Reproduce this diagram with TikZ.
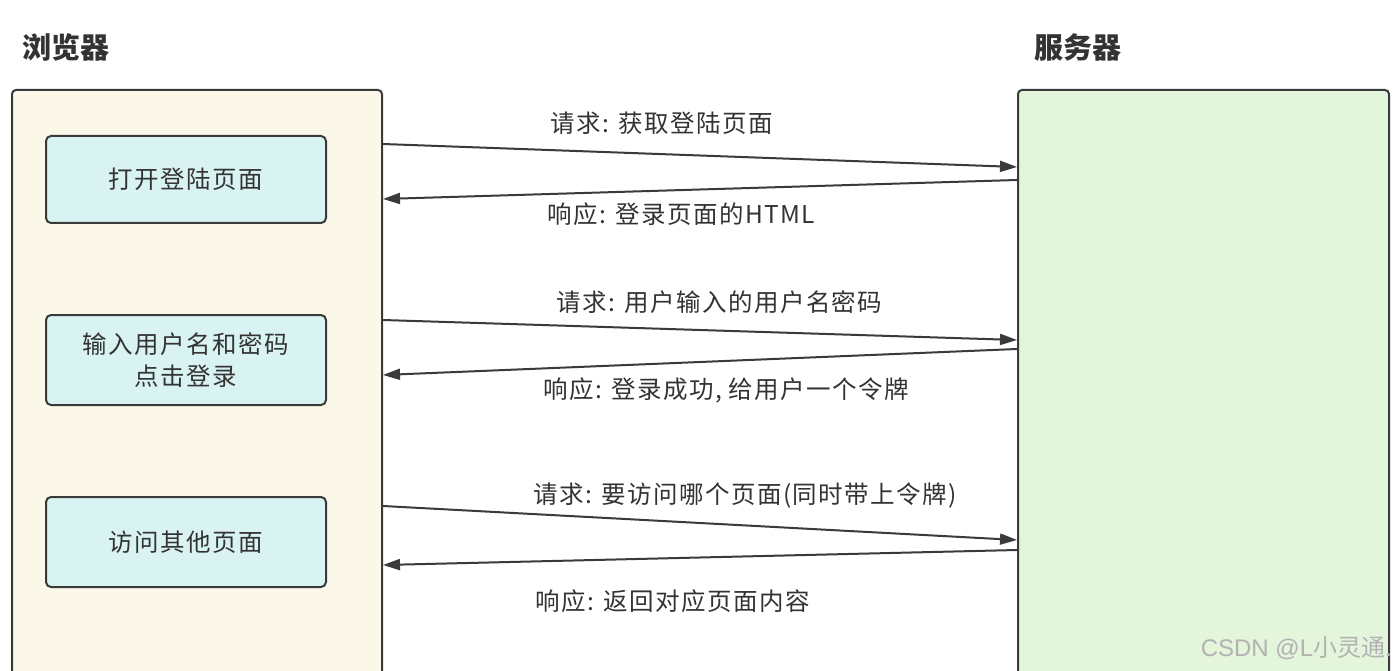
\documentclass[tikz,border=0pt]{standalone}
\usepackage{fontspec}
\setmainfont{Noto Sans CJK SC}
\newfontfamily\spaced[LetterSpace=6]{Noto Sans CJK SC}
\newfontfamily\wmfont{Liberation Sans}
\usetikzlibrary{arrows.meta,calc}
\definecolor{cream}{HTML}{FBF8EA}
\definecolor{srvgreen}{HTML}{E3F5DA}
\definecolor{boxcyan}{HTML}{D9F3F3}
\definecolor{edge}{HTML}{3A3A3A}
\definecolor{txt}{HTML}{333333}
\begin{document}
\begin{tikzpicture}[x=1pt,y=-1pt,
  lane/.style={draw=edge,line width=2pt,rounded corners=4pt,inner sep=0pt},
  stepbox/.style={draw=edge,line width=2pt,rounded corners=5pt,fill=boxcyan,
    minimum width=280pt,minimum height=88pt,inner sep=0pt,align=center,
    font=\spaced\fontsize{24.5}{32}\selectfont,text=txt},
  title/.style={font=\fontsize{29}{32}\selectfont\bfseries,text=txt,anchor=west,inner sep=0pt},
  msg/.style={draw=edge,line width=2pt,-{Triangle[length=17pt,width=11pt]}},
  lbl/.style={font=\spaced\fontsize{24.5}{28}\selectfont,text=txt,inner sep=0pt}]
\useasboundingbox (0,0) rectangle (1398,671);
\clip (0,0) rectangle (1398,671);
\fill[white] (0,0) rectangle (1398,671);
% titles
\node[title] (tb) at (22,47) {浏览器};
\node[title] (ts) at (1034,47) {服务器};
% lanes
\node[lane,fill=cream,minimum width=370pt,minimum height=640pt] (browser) at (197,410) {};
\node[lane,fill=srvgreen,minimum width=371pt,minimum height=640pt] (server) at (1203.5,410) {};
% steps
\node[stepbox,minimum height=87pt] (s1) at (186,179.5) {打开登陆页面};
\node[stepbox,minimum height=90pt] (s2) at (186,360) {输入用户名和密码\\点击登录};
\node[stepbox,minimum height=90pt] (s3) at (186,542) {访问其他页面};
% anchor points on lane borders
\path (browser.north east) ++(0,55) coordinate (b1);
\path (browser.north east) ++(0,110) coordinate (b2);
\path (browser.north east) ++(0,231) coordinate (b3);
\path (browser.north east) ++(0,286) coordinate (b4);
\path (browser.north east) ++(0,417) coordinate (b5);
\path (browser.north east) ++(0,476) coordinate (b6);
\path (server.north west) ++(0,78) coordinate (v1);
\path (server.north west) ++(0,91) coordinate (v2);
\path (server.north west) ++(0,251) coordinate (v3);
\path (server.north west) ++(0,260) coordinate (v4);
\path (server.north west) ++(0,451) coordinate (v5);
\path (server.north west) ++(0,461) coordinate (v6);
% messages
\draw[msg] (b1) -- (v1);
\draw[msg] (v2) -- (b2);
\draw[msg] (b3) -- (v3);
\draw[msg] (v4) -- (b4);
\draw[msg] (b5) -- (v5);
\draw[msg] (v6) -- (b6);
% labels
\node[lbl,anchor=west] (l1) at (550,123) {请求: 获取登陆页面};
\node[lbl,anchor=west] (l2) at (547,214) {响应: 登录页面的HTML};
\node[lbl,anchor=west] (l3) at (556,302) {请求: 用户输入的用户名密码};
\node[lbl,anchor=west] (l4) at (543,390) {响应: 登录成功, 给用户一个令牌};
\node[lbl,anchor=west] (l5) at (533,496) {请求: 要访问哪个页面(同时带上令牌)};
\node[lbl,anchor=west] (l6) at (535,601) {响应: 返回对应页面内容};
% watermark
\node[anchor=east,inner sep=0pt,text=black!30,font=\fontsize{24}{26}\selectfont] (wm) at (1392,648) {{\wmfont CSDN @L}小灵通.};
\end{tikzpicture}
\end{document}
